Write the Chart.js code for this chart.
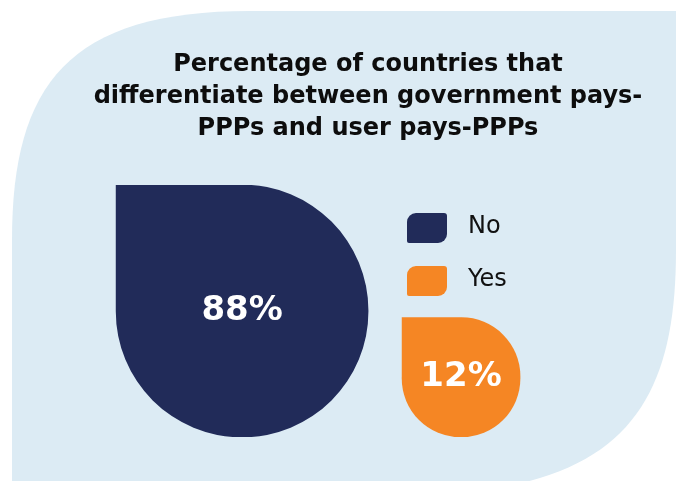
<!DOCTYPE html>
<html>
<head>
<meta charset="utf-8">
<title>Government pays vs user pays PPPs</title>
<script src="https://cdn.jsdelivr.net/npm/chart.js@4.4.1/dist/chart.umd.min.js"></script>
<style>
  html, body { margin: 0; padding: 0; background: #ffffff; }
  .chart-box { position: relative; width: 680px; height: 481px; }
</style>
</head>
<body>
<div class="chart-box"><canvas id="pppChart"></canvas></div>
<script>
// --- Data ---
const categories = ['No', 'Yes'];
const shares = [88, 12]; // % of countries
const titleLines = [
    'Percentage of countries that',
    'differentiate between government pays-',
    'PPPs and user pays-PPPs'
];

// --- Look ---
const colors = ['#212b59', '#f58624'];
const panelColor = '#dcebf4';
const barSizes = [252, 118]; // px, bars are drawn as square "leaves"

// light blue panel with the big rounded corners behind everything
const panelBackdrop = {
    id: 'panelBackdrop',
    beforeDraw(chart) {
        const { ctx } = chart;
        ctx.save();
        ctx.fillStyle = '#ffffff';
        ctx.fillRect(0, 0, chart.width, chart.height);
        ctx.beginPath();
        ctx.moveTo(12, 240);
        ctx.bezierCurveTo(12, 84, 69, 11, 250, 11);
        ctx.lineTo(676, 11);
        ctx.lineTo(676, 250);
        ctx.bezierCurveTo(676, 410, 620, 495, 400, 495);
        ctx.lineTo(12, 495);
        ctx.closePath();
        ctx.fillStyle = panelColor;
        ctx.fill();
        ctx.restore();
    }
};

// percentage written in the middle of each bar
const valueLabels = {
    id: 'valueLabels',
    afterDatasetsDraw(chart) {
        const { ctx } = chart;
        ctx.save();
        ctx.fillStyle = '#ffffff';
        ctx.textAlign = 'center';
        ctx.textBaseline = 'middle';
        ctx.font = 'bold 34px "DejaVu Sans", sans-serif';
        chart.data.datasets.forEach((ds, i) => {
            const bar = chart.getDatasetMeta(i).data[0];
            if (!bar) return;
            const v = ds.data[0].y;
            ctx.fillText(v + '%', bar.x, (bar.y + bar.base) / 2);
        });
        ctx.restore();
    }
};

// small leaf-shaped swatches + labels
const leafLegend = {
    id: 'leafLegend',
    afterDraw(chart, args, opts) {
        const { ctx } = chart;
        ctx.save();
        ctx.font = '24px "DejaVu Sans", sans-serif';
        ctx.textBaseline = 'alphabetic';
        chart.data.datasets.forEach((ds, i) => {
            const top = opts.top + i * opts.gap;
            ctx.fillStyle = ds.backgroundColor;
            ctx.beginPath();
            ctx.roundRect(opts.left, top, 40, 30, [9, 3, 9, 2]);
            ctx.fill();
            ctx.fillStyle = '#111111';
            ctx.fillText(ds.label, opts.left + 61, top + 20);
        });
        ctx.restore();
    }
};

const datasets = categories.map((cat, i) => ({
    label: cat,
    data: [{ x: i, y: shares[i] }],
    backgroundColor: colors[i],
    barThickness: barSizes[i],
    borderSkipped: false,
    borderRadius: {
        topLeft: 0,
        topRight: barSizes[i] / 2,
        bottomLeft: barSizes[i] / 2,
        bottomRight: barSizes[i] / 2
    }
}));

new Chart(document.getElementById('pppChart'), {
    type: 'bar',
    data: { datasets },
    options: {
        responsive: true,
        maintainAspectRatio: false,
        animation: false,
        grouped: false,
        layout: { padding: { left: 56, right: 0, top: 0, bottom: 44 } },
        scales: {
            x: { type: 'linear', min: -0.85, max: 2, offset: false, display: false },
            y: { type: 'logarithmic', min: 2, max: 88, display: false }
        },
        plugins: {
            legend: { display: false },
            tooltip: { enabled: false },
            title: {
                display: true,
                text: titleLines,
                color: '#0d0d0d',
                font: { family: '"DejaVu Sans", sans-serif', size: 24, weight: 'bold', lineHeight: '32px' },
                padding: { top: 49, bottom: 40 }
            },
            leafLegend: { left: 407, top: 213, gap: 53 }
        }
    },
    plugins: [panelBackdrop, valueLabels, leafLegend]
});
</script>
</body>
</html>
